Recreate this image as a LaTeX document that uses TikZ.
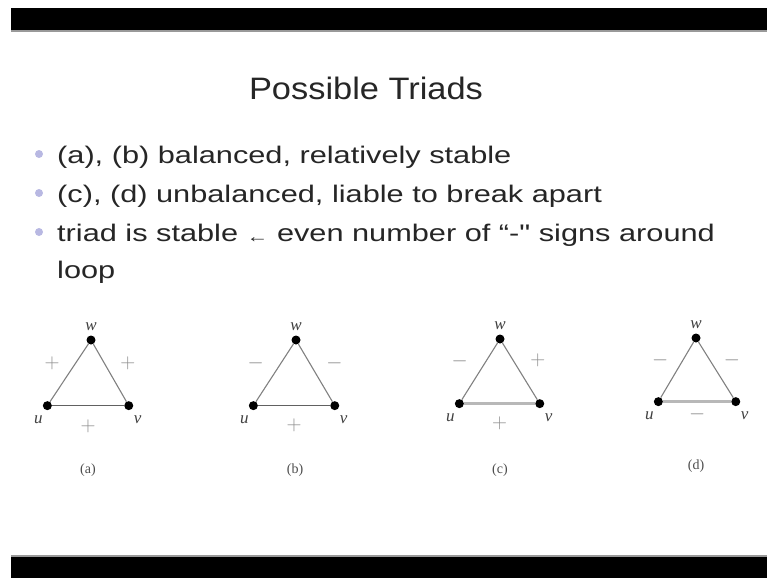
\documentclass[tikz,border=0pt]{standalone}
\usepackage[no-math]{fontspec}
\setmainfont{Liberation Sans}[FakeStretch=1.11]
\newfontfamily\bodyfont{Liberation Sans}[FakeStretch=1.28]
\newfontfamily\capfont{Liberation Serif}
\usetikzlibrary{positioning}
\definecolor{bulletcol}{RGB}{184,184,226}
\definecolor{slidetext}{RGB}{38,38,38}

\begin{document}
\begin{tikzpicture}[x=1pt,y=-1pt,
  dot/.style={circle,fill=black,inner sep=0pt,minimum size=9pt},
  top vertex/.style={dot,label={[vname,label distance=3pt]above:#1}},
  left vertex/.style={dot,label={[vname,label distance=4pt,xshift=-9pt]below:#1}},
  right vertex/.style={dot,label={[vname,label distance=4pt,xshift=9pt]below:#1}},
  side/.style={draw=black!50,line width=1.1pt},
  base side/.style={draw=black!62,line width=1.5pt},
  weak side/.style={draw=black!28,line width=2.4pt},
  sign/.style={text=black!45,font=\fontsize{21}{21}\selectfont,inner sep=0pt},
  vname/.style={font=\capfont\itshape\fontsize{17}{17}\selectfont,text=black!75,inner sep=1pt},
  subcap/.style={font=\capfont\fontsize{14}{14}\selectfont,text=black!70},
  item/.style={anchor=base west,font=\bodyfont\fontsize{24}{28}\selectfont,text=slidetext,inner sep=0pt},
  bullet/.style={circle,fill=bulletcol,inner sep=0pt,minimum size=8pt}]

    \useasboundingbox (0,0) rectangle (767,578);

    % slide bars
    \fill (11,8) rectangle (767,30);
    \fill[black!40] (11,30) rectangle (767,32);
    \fill[black!40] (11,555) rectangle (767,557);
    \fill (11,557) rectangle (767,578);

    \node[anchor=base,font=\fontsize{31}{31}\selectfont,text=slidetext] (title) at (366,99) {Possible Triads};

    \node[bullet] (b1) at (39,154) {};
    \node[bullet] (b2) at (39,193) {};
    \node[bullet] (b3) at (39,232) {};
    \node[item] (t1) at (57,163) {(a), (b) balanced, relatively stable};
    \node[item] (t2) at (57,202) {(c), (d) unbalanced, liable to break apart};
    \node[item] (t3) at (57,241) {triad is stable \raisebox{-1pt}{\fontsize{17}{17}\selectfont ←} even number of “-" signs around};
    \node[item] (t4) at (57,278) {loop};

    % (a)
    \node[top vertex=w] (wa) at (91,340) {};
    \node[left vertex=u,below left=59pt and 37pt of wa,on grid] (ua) {};
    \node[right vertex=v,right=72pt of ua,on grid] (va) {};
    \path (ua) edge[side] node[sign,xshift=-17pt,yshift=10pt] {$+$} (wa)
        (wa) edge[side] node[sign,xshift=18pt,yshift=10pt] {$+$} (va)
        (ua) edge[base side] node[sign,yshift=-21pt] {$+$} (va);
    \node[subcap] (capa) at (88,470) {(a)};

    % (b)
    \node[top vertex=w] (wb) at (296,340) {};
    \node[left vertex=u,below left=59pt and 36pt of wb,on grid] (ub) {};
    \node[right vertex=v,right=72pt of ub,on grid] (vb) {};
    \path (ub) edge[side] node[sign,xshift=-19pt,yshift=10pt] {$-$} (wb)
        (wb) edge[side] node[sign,xshift=19pt,yshift=10pt] {$-$} (vb)
        (ub) edge[base side] node[sign,yshift=-20pt] {$+$} (vb);
    \node[subcap] (capb) at (295,470) {(b)};

    % (c)
    \node[top vertex=w] (wc) at (500,339) {};
    \node[left vertex=u,below left=58pt and 34pt of wc,on grid] (uc) {};
    \node[right vertex=v,right=71pt of uc,on grid] (vc) {};
    \path (uc) edge[side] node[sign,xshift=-20pt,yshift=10pt] {$-$} (wc)
        (wc) edge[side] node[sign,xshift=18pt,yshift=11pt] {$+$} (vc)
        (uc) edge[weak side] node[sign,yshift=-20pt] {$+$} (vc);
    \node[subcap] (capc) at (500,470) {(c)};

    % (d)
    \node[top vertex=w] (wd) at (696,338) {};
    \node[left vertex=u,below left=57pt and 31pt of wd,on grid] (ud) {};
    \node[right vertex=v,right=68pt of ud,on grid] (vd) {};
    \path (ud) edge[side] node[sign,xshift=-17pt,yshift=10pt] {$-$} (wd)
        (wd) edge[side] node[sign,xshift=16pt,yshift=10pt] {$-$} (vd)
        (ud) edge[weak side] node[sign,yshift=-13pt] {$-$} (vd);
    \node[subcap] (capd) at (696,466) {(d)};

\end{tikzpicture}
\end{document}
